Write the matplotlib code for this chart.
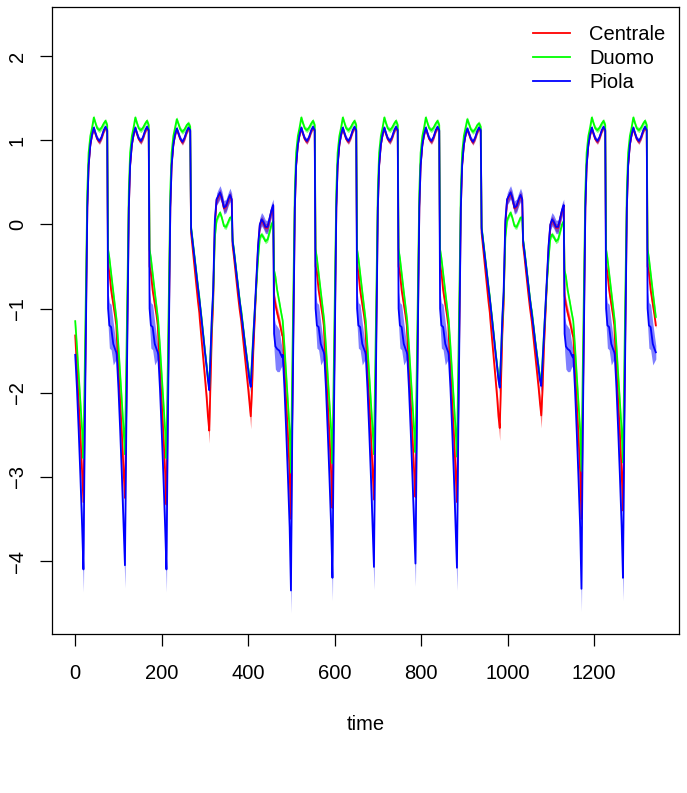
import matplotlib.pyplot as plt
import numpy as np

plt.rcParams['font.family'] = ['Liberation Sans', 'DejaVu Sans']

# offsets of the read-off points inside one day (96 steps per day)
knots = [0, 4, 8, 12, 16, 19, 22, 25, 28, 31, 35, 39, 43, 47, 51, 56, 61, 66, 70, 74, 76, 79, 83, 88, 92, 95]

# kind of each of the 14 days (evening shape depends on the next morning)
day_kinds = ["wk", "wk", "fri", "sat", "sun", "wk", "wk", "wk", "wk", "fri", "sat", "sun", "wk", "wk"]

# night minimum of every day
centrale_min = [-3.3, -3.25, -3.33, -2.45, -2.28, -3.5, -3.37, -3.27, -3.24, -3.3, -2.42, -2.27, -3.5, -3.4]
duomo_min = [-2.78, -2.73, -2.78, -1.93, -1.89, -2.95, -2.84, -2.73, -2.71, -2.76, -1.91, -1.88, -2.93, -2.83]
piola_min = [-4.1, -4.05, -4.1, -1.97, -1.93, -4.35, -4.2, -4.07, -4.03, -4.08, -1.94, -1.92, -4.33, -4.2]

# daily shapes (None = the night minimum of that day)
centrale_wk = [-1.32, -1.7, -2.1, -2.5, -2.95, None, -2.2, -1.0, 0.2, 0.7, 0.95, 1.07, 1.14, 1.07, 1.01, 0.98, 1.03, 1.11, 1.15, 1.11, -0.5, -0.57, -0.78, -0.95, -1.08, -1.2]
centrale_fri = [-1.32, -1.7, -2.1, -2.5, -2.95, None, -2.2, -1.0, 0.2, 0.7, 0.95, 1.07, 1.13, 1.07, 1.01, 0.97, 1.02, 1.1, 1.14, 1.11, -0.1, -0.26, -0.46, -0.72, -0.92, -1.05]
centrale_sat = [-1.12, -1.35, -1.58, -1.82, -2.06, -2.28, None, -1.85, -1.3, -0.95, 0.0, 0.29, 0.33, 0.37, 0.31, 0.19, 0.21, 0.29, 0.34, 0.29, -0.25, -0.38, -0.58, -0.82, -1.0, -1.12]
centrale_sun = [-1.15, -1.35, -1.55, -1.75, -1.95, -2.12, None, -1.95, -1.5, -1.15, -0.7, -0.28, -0.01, 0.05, 0.02, -0.04, -0.04, 0.07, 0.16, 0.22, -0.85, -0.95, -1.05, -1.15, -1.25, -1.32]

duomo_wk = [-1.15, -1.45, -1.78, -2.1, -2.45, None, -1.75, -0.7, 0.4, 0.85, 1.05, 1.15, 1.27, 1.2, 1.14, 1.12, 1.15, 1.2, 1.23, 1.18, -0.3, -0.4, -0.58, -0.8, -0.97, -1.1]
duomo_fri = [-1.15, -1.45, -1.78, -2.1, -2.45, None, -1.75, -0.7, 0.4, 0.85, 1.05, 1.15, 1.25, 1.19, 1.13, 1.1, 1.13, 1.18, 1.2, 1.16, -0.03, -0.16, -0.34, -0.56, -0.74, -0.86]
duomo_sat = [-0.92, -1.1, -1.3, -1.5, -1.68, -1.82, None, -1.55, -1.15, -0.85, -0.15, 0.05, 0.1, 0.14, 0.08, -0.02, -0.03, 0.03, 0.08, 0.08, -0.18, -0.3, -0.48, -0.7, -0.88, -1.0]
duomo_sun = [-1.02, -1.2, -1.38, -1.54, -1.7, -1.82, None, -1.6, -1.3, -1.05, -0.7, -0.4, -0.16, -0.12, -0.15, -0.2, -0.18, -0.08, 0.0, 0.04, -0.55, -0.62, -0.78, -0.92, -1.04, -1.12]

piola_wk = [-1.55, -1.95, -2.45, -3.0, -3.6, None, -2.5, -1.1, 0.2, 0.7, 0.95, 1.07, 1.15, 1.08, 1.02, 0.99, 1.04, 1.12, 1.16, 1.12, -1.0, -1.2, -1.22, -1.42, -1.48, -1.52]
piola_fri = [-1.55, -1.95, -2.45, -3.0, -3.6, None, -2.5, -1.1, 0.2, 0.7, 0.95, 1.07, 1.14, 1.08, 1.02, 0.98, 1.03, 1.11, 1.15, 1.12, -0.05, -0.18, -0.36, -0.58, -0.76, -0.88]
piola_sat = [-0.93, -1.12, -1.32, -1.52, -1.7, -1.85, None, -1.55, -1.1, -0.8, 0.05, 0.3, 0.34, 0.38, 0.32, 0.2, 0.22, 0.3, 0.35, 0.3, -0.2, -0.32, -0.5, -0.72, -0.9, -1.02]
piola_sun = [-1.05, -1.22, -1.4, -1.56, -1.72, -1.85, None, -1.65, -1.35, -1.05, -0.65, -0.25, 0.0, 0.06, 0.03, -0.03, -0.03, 0.08, 0.17, 0.23, -1.3, -1.45, -1.48, -1.5, -1.55, -1.58]

# half widths of the shaded bands
centrale_band_wd = [0.04, 0.04, 0.05, 0.06, 0.08, 0.1, 0.06, 0.03, 0.03, 0.03, 0.03, 0.03, 0.03, 0.03, 0.03, 0.03, 0.03, 0.03, 0.03, 0.03, 0.07, 0.08, 0.08, 0.07, 0.05, 0.04]
centrale_band_we = [0.04, 0.05, 0.06, 0.07, 0.09, 0.12, 0.15, 0.1, 0.06, 0.05, 0.05, 0.05, 0.05, 0.05, 0.05, 0.05, 0.05, 0.05, 0.05, 0.05, 0.06, 0.07, 0.07, 0.07, 0.06, 0.05]
duomo_band = [0.03, 0.03, 0.03, 0.04, 0.04, 0.05, 0.04, 0.03, 0.03, 0.03, 0.03, 0.03, 0.03, 0.03, 0.03, 0.03, 0.03, 0.03, 0.03, 0.03, 0.03, 0.03, 0.03, 0.03, 0.03, 0.03]
piola_band_wk = [0.06, 0.08, 0.1, 0.14, 0.2, 0.27, 0.16, 0.06, 0.03, 0.03, 0.03, 0.03, 0.03, 0.03, 0.03, 0.03, 0.03, 0.03, 0.03, 0.03, 0.2, 0.27, 0.27, 0.25, 0.15, 0.08]
piola_band_fri = [0.06, 0.08, 0.1, 0.14, 0.2, 0.27, 0.16, 0.06, 0.03, 0.03, 0.03, 0.03, 0.03, 0.03, 0.03, 0.03, 0.03, 0.03, 0.03, 0.03, 0.04, 0.04, 0.04, 0.04, 0.04, 0.04]
piola_band_sat = [0.04, 0.04, 0.05, 0.05, 0.06, 0.07, 0.08, 0.06, 0.05, 0.05, 0.06, 0.07, 0.08, 0.08, 0.08, 0.08, 0.08, 0.08, 0.08, 0.07, 0.05, 0.05, 0.05, 0.05, 0.05, 0.05]
piola_band_sun = [0.04, 0.04, 0.05, 0.05, 0.06, 0.07, 0.08, 0.06, 0.05, 0.05, 0.06, 0.07, 0.08, 0.08, 0.08, 0.08, 0.08, 0.08, 0.08, 0.07, 0.2, 0.27, 0.27, 0.25, 0.15, 0.1]


def build(shapes, minima, bands):
    t, v, w = [], [], []
    for d, kind in enumerate(day_kinds):
        vals = list(shapes[kind])
        vals[vals.index(None)] = minima[d]
        t.extend([96 * d + k for k in knots])
        v.extend(vals)
        w.extend(bands[kind])
    return np.array(t), np.array(v), np.array(w)


series = [
    ("Centrale", "#FF0000",
     build({"wk": centrale_wk, "fri": centrale_fri, "sat": centrale_sat, "sun": centrale_sun}, centrale_min,
           {"wk": centrale_band_wd, "fri": centrale_band_wd, "sat": centrale_band_we, "sun": centrale_band_we})),
    ("Duomo", "#00FF00",
     build({"wk": duomo_wk, "fri": duomo_fri, "sat": duomo_sat, "sun": duomo_sun}, duomo_min,
           {"wk": duomo_band, "fri": duomo_band, "sat": duomo_band, "sun": duomo_band})),
    ("Piola", "#0000FF",
     build({"wk": piola_wk, "fri": piola_fri, "sat": piola_sat, "sun": piola_sun}, piola_min,
           {"wk": piola_band_wk, "fri": piola_band_fri, "sat": piola_band_sat, "sun": piola_band_sun})),
]

fig = plt.figure(figsize=(6.87, 7.93), dpi=100)
ax = fig.add_axes([0.0757, 0.2001, 0.9127, 0.7914])

# bands first, lines on top
for name, col, (t, v, w) in series:
    ax.fill_between(t, v - w, v + w, color=col, alpha=0.5, linewidth=0)
for name, col, (t, v, w) in series:
    ax.plot(t, v, color=col, linewidth=1.3, label=name)

ax.set_xlim(-53.7, 1396.7)
ax.set_ylim(-4.871, 2.586)
ax.set_xticks([0, 200, 400, 600, 800, 1000, 1200])
ax.set_yticks([-4, -3, -2, -1, 0, 1, 2])
ax.tick_params(direction='out', length=8.6, width=0.9, labelsize=14.5)
ax.tick_params(axis='x', pad=13)
ax.tick_params(axis='y', pad=9.5)
for lab in ax.get_yticklabels():
    lab.set_rotation(90)
    lab.set_va('center')
for s in ax.spines.values():
    s.set_linewidth(0.9)

fig.text(0.532, 1 - 730 / 793, "time", ha='center', va='baseline', fontsize=14.5)

ax.legend(loc='upper right', bbox_to_anchor=(1 - 5.6 / 627, 1 - 10.6 / 627.6), frameon=False,
          fontsize=14.5, handlelength=1.84, handletextpad=0.95, labelspacing=0.25, borderaxespad=0)

fig.savefig("out.png", dpi=100)
